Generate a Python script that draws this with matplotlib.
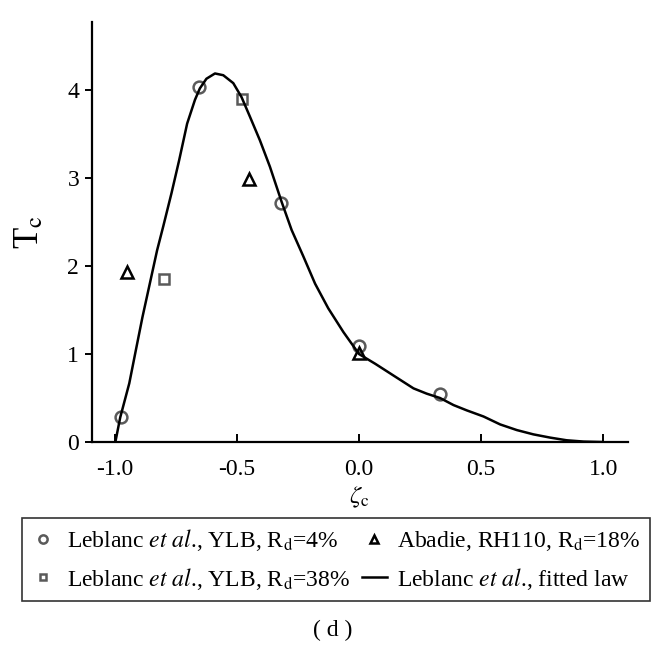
import matplotlib
matplotlib.use("Agg")
import matplotlib.pyplot as plt

plt.rcParams["font.family"] = ["Liberation Serif", "DejaVu Serif"]
plt.rcParams["mathtext.fontset"] = "stix"
plt.rcParams["axes.unicode_minus"] = False

# Leblanc et al., YLB, Rd=4%
zeta_rd4 = [-0.975, -0.655, -0.32, 0.0, 0.33]
tc_rd4 = [0.28, 4.04, 2.72, 1.09, 0.55]

# Leblanc et al., YLB, Rd=38%
zeta_rd38 = [-0.80, -0.48]
tc_rd38 = [1.85, 3.90]

# Abadie, RH110, Rd=18%
zeta_abadie = [-0.95, -0.45, 0.0]
tc_abadie = [1.93, 2.99, 1.01]

# fitted law
zeta_fit = [-0.998, -0.978, -0.941, -0.914, -0.887, -0.857, -0.827, -0.802,
            -0.768, -0.737, -0.704, -0.672, -0.652, -0.625, -0.590, -0.556,
            -0.515, -0.481, -0.447, -0.406, -0.365, -0.317, -0.276, -0.228,
            -0.180, -0.126, -0.064, 0.0, 0.066, 0.15, 0.223, 0.277, 0.332,
            0.387, 0.441, 0.51, 0.578, 0.646, 0.714, 0.783, 0.85, 0.92, 0.995]
tc_fit = [0.0, 0.28, 0.667, 1.045, 1.42, 1.80, 2.18, 2.45,
          2.83, 3.20, 3.62, 3.89, 4.02, 4.13, 4.19, 4.17,
          4.08, 3.92, 3.70, 3.43, 3.13, 2.73, 2.41, 2.11,
          1.80, 1.52, 1.25, 1.0, 0.89, 0.74, 0.61, 0.55, 0.50,
          0.42, 0.36, 0.29, 0.20, 0.136, 0.087, 0.05, 0.02, 0.005, 0.0]

xticks = [-1.0, -0.5, 0.0, 0.5, 1.0]
xtick_labels = ["-1.0", "-0.5", "0.0", "0.5", "1.0"]
yticks = [0, 1, 2, 3, 4]

fig = plt.figure(figsize=(6.52, 6.45), dpi=100)
ax = fig.add_axes([0.1406, 0.3147, 0.822, 0.6505])

gray = "#5a5a5a"
h_rd4, = ax.plot(zeta_rd4, tc_rd4, linestyle="none", marker="o", ms=8.5,
                 mfc="none", mec=gray, mew=1.8)
h_rd38, = ax.plot(zeta_rd38, tc_rd38, linestyle="none", marker="s", ms=7,
                  mfc="none", mec=gray, mew=1.8)
h_ab, = ax.plot(zeta_abadie, tc_abadie, linestyle="none", marker="^", ms=8,
                mfc="none", mec="black", mew=1.8)
h_fit, = ax.plot(zeta_fit, tc_fit, color="black", lw=1.8)

ax.set_xlim(-1.095, 1.1)
ax.set_ylim(0, 4.77)
ax.spines["top"].set_visible(False)
ax.spines["right"].set_visible(False)
for s in ("left", "bottom"):
    ax.spines[s].set_linewidth(1.6)

ax.set_xticks(xticks)
ax.set_xticklabels(xtick_labels)
ax.set_yticks(yticks)
ax.tick_params(axis="x", direction="in", length=6, width=1.4, labelsize=17, pad=12)
ax.tick_params(axis="y", direction="out", length=5, width=1.4, labelsize=17, pad=4)

ax.set_xlabel(r"$\zeta_\mathrm{c}$", fontsize=18, labelpad=4)
ax.set_ylabel(r"T$_\mathrm{c}$", fontsize=25, labelpad=15)

leg = fig.legend([h_rd4, h_rd38, h_ab, h_fit],
                 [r"Leblanc $\mathit{et\ al}$., YLB, R$_\mathrm{d}$=4%",
                  r"Leblanc $\mathit{et\ al}$., YLB, R$_\mathrm{d}$=38%",
                  r"Abadie, RH110, R$_\mathrm{d}$=18%",
                  r"Leblanc $\mathit{et\ al}$., fitted law"],
                 ncol=2, loc="upper left", bbox_to_anchor=(0.033, 0.197),
                 borderaxespad=0,
                 fontsize=17, frameon=True, fancybox=False, edgecolor="black",
                 markerscale=0.7, handlelength=1.06, handletextpad=0.45,
                 columnspacing=0.5, borderpad=0.4, labelspacing=0.52)
leg.get_frame().set_linewidth(1.2)

fig.text(0.511, 0.023, "( d )", ha="center", va="center", fontsize=17)

fig.savefig("out.png", dpi=100)
